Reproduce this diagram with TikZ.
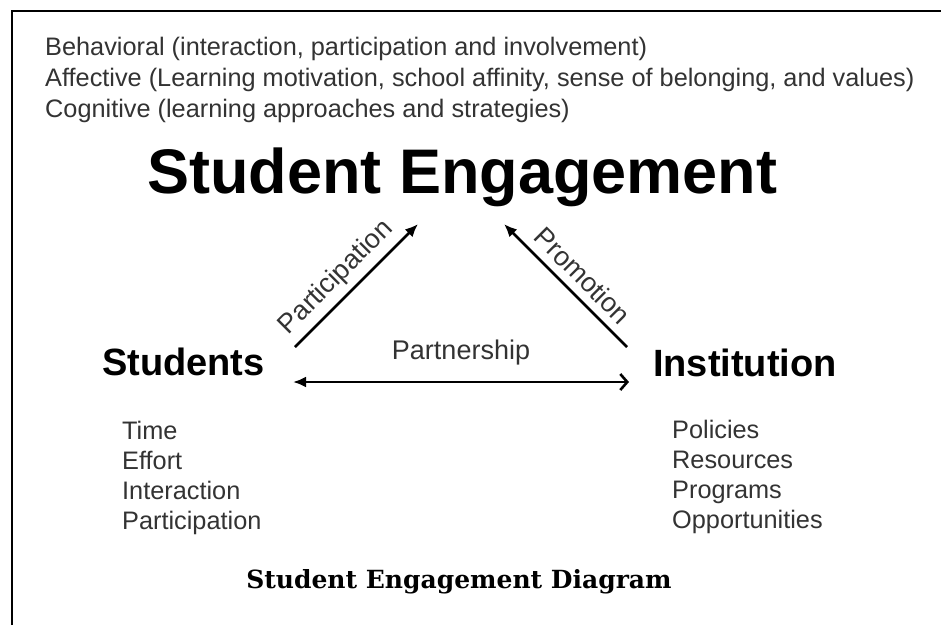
\documentclass[tikz,border=0pt]{standalone}
\usepackage{fontspec}
\setmainfont{Liberation Sans}
\newfontfamily\slabfont{DejaVu Serif}
\usetikzlibrary{arrows.meta}

\begin{document}
\begin{tikzpicture}[x=1pt,y=-1pt,
	plain/.style={inner sep=0pt,anchor=base west,text=black!80,font=\fontsize{25.3}{30}\selectfont},
	heading/.style={inner sep=0pt,anchor=base west,font=\bfseries\fontsize{38}{44}\selectfont},
	link/.style={line width=2.6pt,-{Latex[length=13pt,width=11pt]}},
	linklabel/.style={inner sep=0pt,sloped,text=black!80,font=\fontsize{27}{32}\selectfont}]
	\def\W{941}
	\def\H{625}
	\fill[white] (0,0) rectangle (\W,\H);
	\useasboundingbox (0,0) rectangle (\W,\H);
	% frame: top and left edge only
	\draw[line width=2.5pt] (12,\H) -- (12,11) -- (\W,11);
	% the three dimensions
	\node[plain] (beh) at (45,55) {Behavioral (interaction, participation and involvement)};
	\node[plain] (aff) at (45,86) {Affective (Learning motivation, school affinity, sense of belonging, and values)};
	\node[plain] (cog) at (45,117) {Cognitive (learning approaches and strategies)};
	% corners of the triangle
	\node[heading,font=\bfseries\fontsize{63}{70}\selectfont] (eng) at (147,193) {Student Engagement};
	\node[heading] (stu) at (102,375) {Students};
	\node[heading] (inst) at (653,376) {Institution};
	% arrow ends
	\coordinate (stuTop) at (295,347);
	\coordinate (engLeft) at (418,224);
	\coordinate (instTop) at (627,347);
	\coordinate (engRight) at (504,224);
	\coordinate (stuRight) at (293,382);
	\coordinate (instLeft) at (629,382);
	\draw[link] (stuTop) -- node[linklabel,pos=0.45,above=6pt] {Participation} (engLeft);
	\draw[link] (instTop) -- node[linklabel,pos=0.47,above=8pt] {Promotion} (engRight);
	\draw[line width=2.6pt,{Latex[length=13pt,width=11pt]}-{Straight Barb[length=7pt,width=16pt,line width=2.6pt]}]
		(stuRight) -- node[linklabel,midway,above=16pt] {Partnership} (instLeft);
	% what each side brings (base anchor sits on the last line)
	\node[plain,align=left] (stuList) at (122,529) {Time\\Effort\\Interaction\\Participation};
	\node[plain,align=left] (instList) at (672,528) {Policies\\Resources\\Programs\\Opportunities};
	\node[inner sep=0pt,anchor=base,font=\slabfont\bfseries\fontsize{25}{30}\selectfont] (caption) at (459,588) {Student Engagement Diagram};
\end{tikzpicture}
\end{document}
